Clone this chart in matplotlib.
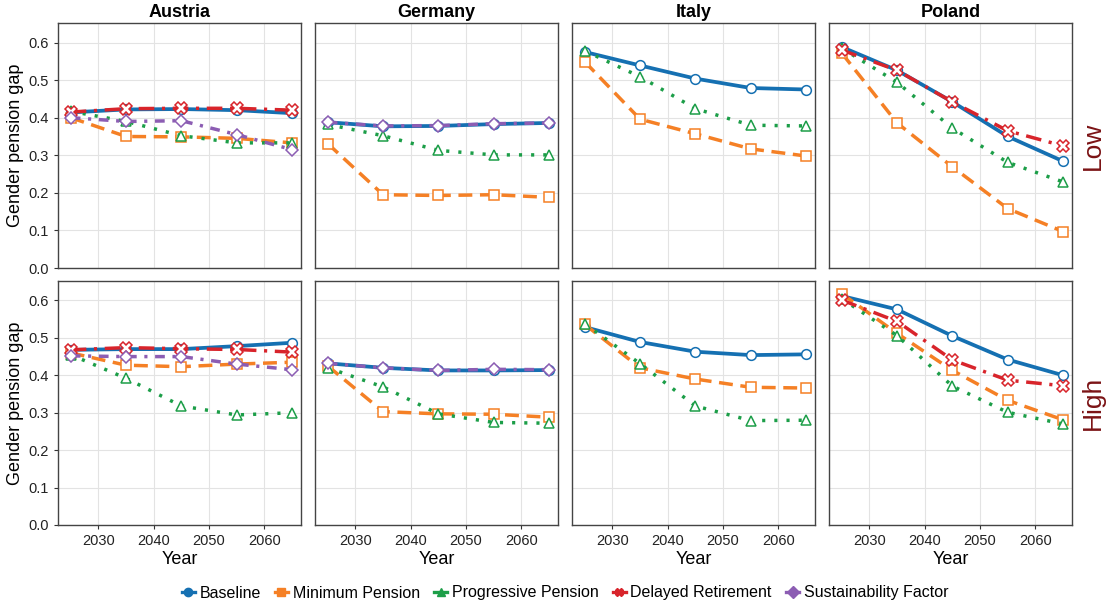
import matplotlib
matplotlib.use("Agg")
import matplotlib.pyplot as plt
from matplotlib.lines import Line2D

plt.rcParams['font.family'] = ['Liberation Sans', 'DejaVu Sans']

years = [2025, 2035, 2045, 2055, 2065]
countries = ["Austria", "Germany", "Italy", "Poland"]
levels = ["Low", "High"]
scenarios = ["Baseline", "Minimum Pension", "Progressive Pension",
             "Delayed Retirement", "Sustainability Factor"]

# Low row
austria_low = {
    "Baseline": [0.414, 0.422, 0.423, 0.420, 0.412],
    "Minimum Pension": [0.400, 0.350, 0.349, 0.345, 0.333],
    "Progressive Pension": [0.417, 0.390, 0.352, 0.333, 0.333],
    "Delayed Retirement": [0.415, 0.424, 0.425, 0.425, 0.420],
    "Sustainability Factor": [0.400, 0.390, 0.392, 0.355, 0.315],
}
germany_low = {
    "Baseline": [0.388, 0.377, 0.378, 0.383, 0.386],
    "Minimum Pension": [0.331, 0.195, 0.193, 0.195, 0.188],
    "Progressive Pension": [0.382, 0.352, 0.313, 0.301, 0.301],
    "Sustainability Factor": [0.388, 0.378, 0.379, 0.384, 0.386],
}
italy_low = {
    "Baseline": [0.575, 0.539, 0.504, 0.479, 0.475],
    "Minimum Pension": [0.549, 0.396, 0.357, 0.317, 0.298],
    "Progressive Pension": [0.578, 0.509, 0.424, 0.380, 0.378],
}
poland_low = {
    "Baseline": [0.588, 0.526, 0.442, 0.350, 0.284],
    "Minimum Pension": [0.572, 0.386, 0.269, 0.158, 0.097],
    "Progressive Pension": [0.585, 0.494, 0.372, 0.281, 0.229],
    "Delayed Retirement": [0.580, 0.526, 0.442, 0.365, 0.325],
}
# High row
austria_high = {
    "Baseline": [0.468, 0.470, 0.470, 0.478, 0.487],
    "Minimum Pension": [0.460, 0.427, 0.423, 0.430, 0.435],
    "Progressive Pension": [0.455, 0.392, 0.318, 0.294, 0.300],
    "Delayed Retirement": [0.468, 0.474, 0.471, 0.469, 0.462],
    "Sustainability Factor": [0.452, 0.450, 0.450, 0.430, 0.415],
}
germany_high = {
    "Baseline": [0.432, 0.420, 0.413, 0.413, 0.414],
    "Minimum Pension": [0.425, 0.303, 0.297, 0.296, 0.288],
    "Progressive Pension": [0.420, 0.369, 0.297, 0.274, 0.272],
    "Sustainability Factor": [0.432, 0.420, 0.413, 0.416, 0.415],
}
italy_high = {
    "Baseline": [0.529, 0.489, 0.463, 0.454, 0.456],
    "Minimum Pension": [0.536, 0.420, 0.390, 0.368, 0.366],
    "Progressive Pension": [0.538, 0.431, 0.318, 0.279, 0.280],
}
poland_high = {
    "Baseline": [0.612, 0.576, 0.505, 0.442, 0.400],
    "Minimum Pension": [0.618, 0.512, 0.413, 0.333, 0.281],
    "Progressive Pension": [0.605, 0.506, 0.371, 0.301, 0.270],
    "Delayed Retirement": [0.601, 0.544, 0.441, 0.387, 0.372],
}
data = {
    "Low": [austria_low, germany_low, italy_low, poland_low],
    "High": [austria_high, germany_high, italy_high, poland_high],
}

colors = {
    "Baseline": "#1570B2",
    "Minimum Pension": "#F58025",
    "Progressive Pension": "#1C9E48",
    "Delayed Retirement": "#D8242B",
    "Sustainability Factor": "#8C5DB3",
}
styles = {
    "Baseline": "-",
    "Minimum Pension": (0, (4, 2.2)),
    "Progressive Pension": (0, (0.9, 2.6)),
    "Delayed Retirement": (0, (4.5, 2.2, 0.9, 2.2)),
    "Sustainability Factor": (0, (2.8, 2.2, 0.9, 2.2)),
}
markers = {
    "Baseline": "o",
    "Minimum Pension": "s",
    "Progressive Pension": "^",
    "Delayed Retirement": "X",
    "Sustainability Factor": "D",
}
msizes = {"Baseline": 7, "Minimum Pension": 6.5, "Progressive Pension": 7,
          "Delayed Retirement": 8, "Sustainability Factor": 6}

W, H = 1110, 609
fig = plt.figure(figsize=(W / 100, H / 100), dpi=100)

lefts = [58, 315, 572, 829]
pw = 243
rows = [(23, 268), (281, 525)]

for r, lev in enumerate(levels):
    top, bot = rows[r]
    for c, ctry in enumerate(countries):
        ax = fig.add_axes([lefts[c] / W, 1 - bot / H, pw / W, (bot - top) / H])
        d = data[lev][c]
        for s in scenarios:
            if s not in d:
                continue
            ax.plot(years, d[s], color=colors[s], linestyle=styles[s],
                    lw=2.7 if s == "Baseline" else 2.5,
                    marker=markers[s], markersize=msizes[s],
                    markerfacecolor="white", markeredgecolor=colors[s],
                    markeredgewidth=1.1, dash_capstyle="butt", zorder=3)
        ax.set_xlim(2022.7, 2066.6)
        ax.set_ylim(0, 0.652)
        ax.set_xticks([2030, 2040, 2050, 2060])
        ax.set_yticks([0.0, 0.1, 0.2, 0.3, 0.4, 0.5, 0.6])
        ax.grid(True, color="#e3e3e3", lw=0.8, zorder=0)
        ax.set_axisbelow(True)
        for sp in ax.spines.values():
            sp.set_color("#444444")
            sp.set_linewidth(1.0)
        ax.tick_params(axis="both", labelsize=10.5, colors="#333333",
                       length=3, width=0.8, labelcolor="#222222")
        if r == 0:
            ax.set_title(ctry, fontsize=13, fontweight="bold", pad=4)
            ax.tick_params(axis="x", bottom=False, labelbottom=False)
        else:
            ax.set_xlabel("Year", fontsize=13, labelpad=2)
        if c == 0:
            ax.set_ylabel("Gender pension gap", fontsize=13, labelpad=3)
            ax.set_yticklabels(["0.0", "0.1", "0.2", "0.3", "0.4", "0.5", "0.6"])
        else:
            ax.tick_params(axis="y", left=False, labelleft=False)
        if c == 3:
            ax.text(1.085, 0.5, lev, transform=ax.transAxes, rotation=90,
                    ha="center", va="center", fontsize=19, color="#7B1315")

handles = [Line2D([0], [0], color=colors[s], lw=2.4, marker=markers[s],
                  markersize=6, markerfacecolor=colors[s],
                  markeredgecolor=colors[s], linestyle="-")
           for s in scenarios]
fig.legend(handles, scenarios, loc="center", bbox_to_anchor=(0.509, 1 - 593 / H),
           ncol=5, frameon=False, fontsize=11.5, handlelength=0.8,
           handletextpad=0.3, columnspacing=0.9)

fig.savefig("out.png", dpi=100)
